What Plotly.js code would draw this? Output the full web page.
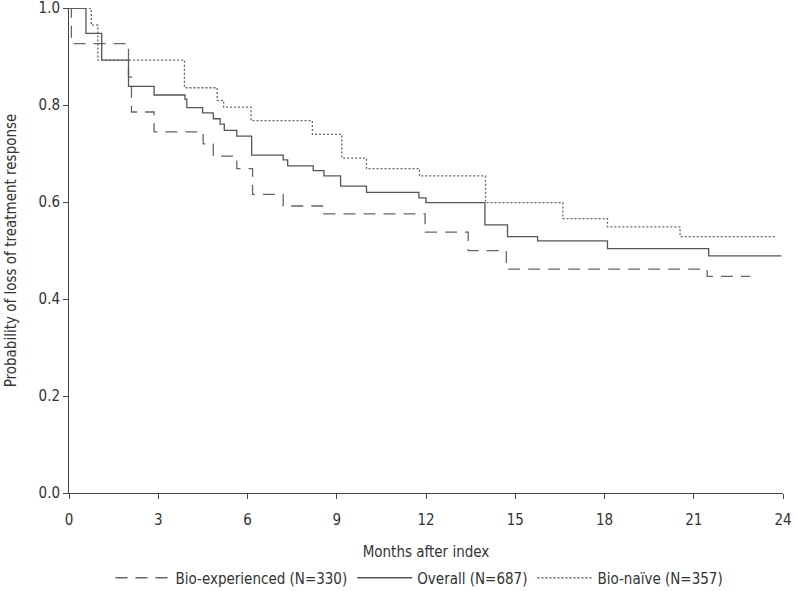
<!DOCTYPE html>
<html>
<head>
<meta charset="utf-8">
<script src="https://cdn.plot.ly/plotly-3.0.1.min.js"></script>
<style>html,body{margin:0;padding:0;background:#fff;}#chart{width:796px;height:591px;}</style>
</head>
<body>
<div id="chart"></div>
<script>
// Kaplan-Meier style step data (months, probability)
var expTimes = [0, 0.08, 2.0, 2.1, 2.86, 4.51, 4.85, 5.64, 6.17, 7.2, 8.57, 11.97, 13.42, 14.7, 21.45, 22.9];
var expProb  = [1.0, 0.927, 0.858, 0.786, 0.745, 0.720, 0.695, 0.669, 0.616, 0.592, 0.576, 0.538, 0.500, 0.462, 0.447, 0.447];

var allTimes = [0, 0.57, 1.1, 2.0, 2.86, 3.9, 3.96, 4.49, 4.85, 5.08, 5.22, 5.64, 6.14, 7.2, 7.35, 8.21, 8.57, 9.13, 10.0, 11.76, 12.0, 13.98, 14.74, 15.75, 18.1, 21.5, 23.95];
var allProb  = [1.0, 0.948, 0.893, 0.839, 0.821, 0.812, 0.795, 0.784, 0.772, 0.761, 0.748, 0.736, 0.697, 0.687, 0.675, 0.665, 0.654, 0.633, 0.620, 0.609, 0.599, 0.553, 0.529, 0.520, 0.504, 0.489, 0.489];

var naiveTimes = [0, 0.75, 0.97, 3.88, 4.98, 5.2, 6.12, 8.18, 9.17, 10.0, 11.78, 14.0, 16.6, 18.1, 20.54, 23.73];
var naiveProb  = [1.0, 0.965, 0.893, 0.836, 0.81, 0.796, 0.768, 0.740, 0.691, 0.669, 0.654, 0.599, 0.566, 0.549, 0.529, 0.529];

var seriesNames = ['Bio-experienced (N=330)', 'Overall (N=687)', 'Bio-naïve (N=357)'];
var xTicks = [0, 3, 6, 9, 12, 15, 18, 21, 24];
var yTicks = [0, 0.2, 0.4, 0.6, 0.8, 1.0];

var FONT = '"DejaVu Sans Condensed", "DejaVu Sans", sans-serif';

var traces = [
  {x: expTimes, y: expProb, name: seriesNames[0], mode: 'lines',
   line: {shape: 'hv', color: '#666666', width: 1.3, dash: '12px,8px'}},
  {x: allTimes, y: allProb, name: seriesNames[1], mode: 'lines',
   line: {shape: 'hv', color: '#555555', width: 1.3}},
  {x: naiveTimes, y: naiveProb, name: seriesNames[2], mode: 'lines',
   line: {shape: 'hv', color: '#666666', width: 1.3, dash: '2px,2px'}}
];

var layout = {
  width: 796, height: 591,
  margin: {l: 69, r: 13, t: 8, b: 98},
  paper_bgcolor: '#fff', plot_bgcolor: '#fff',
  font: {family: FONT, size: 15, color: '#333'},
  showlegend: true,
  legend: {orientation: 'h', x: 0.527, xanchor: 'center', xref: 'container',
           y: 0.022, yanchor: 'middle', yref: 'container',
           font: {family: FONT, size: 15, color: '#333'}, itemwidth: 55, traceorder: 'normal'},
  xaxis: {
    range: [0, 24], tickvals: xTicks, ticktext: xTicks.map(String), automargin: false,
    showgrid: false, zeroline: false, showline: true, linecolor: '#444', linewidth: 1,
    ticks: 'outside', ticklen: 5, tickcolor: '#444', ticklabelstandoff: 8,
    title: {text: 'Months after index', standoff: 26, font: {family: FONT, size: 15, color: '#333'}}
  },
  yaxis: {
    range: [0, 1.0005], tickvals: yTicks, ticktext: yTicks.map(function(v){return v.toFixed(1);}), automargin: false,
    showgrid: false, zeroline: false, showline: true, linecolor: '#444', linewidth: 1,
    ticks: 'outside', ticklen: 5, tickcolor: '#444', ticklabeloverflow: 'allow',
    title: {text: 'Probability of loss of treatment response', standoff: 18, font: {family: FONT, size: 15, color: '#333'}}
  }
};

Plotly.newPlot('chart', traces, layout, {displayModeBar: false, staticPlot: true});
</script>
</body>
</html>
